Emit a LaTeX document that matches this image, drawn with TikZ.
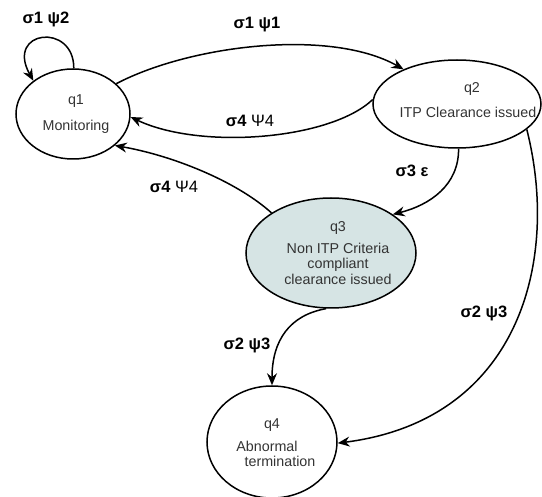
\documentclass[tikz,border=0pt]{standalone}
\usepackage{fontspec}
\setmainfont{Liberation Sans}
\usetikzlibrary{arrows.meta,shapes.geometric}
\definecolor{statefill}{HTML}{D6E4E4}
\definecolor{statetext}{HTML}{333333}
\begin{document}
\begin{tikzpicture}[x=1pt,y=-1pt,
  state/.style={ellipse,draw=black,line width=1.5pt,inner sep=0pt},
  stxt/.style={align=center,text=statetext,font=\fontsize{14.3}{15.5}\selectfont,inner sep=0pt},
  lbl/.style={font=\fontsize{16.5}{18}\selectfont\bfseries,inner sep=0pt},
  trans/.style={line width=1.5pt,-{Stealth[length=12pt,width=10pt,inset=4pt]}}]
  \useasboundingbox (0,0) rectangle (542,497);

  % states
  \node[state,minimum width=114pt,minimum height=90pt] (q1) at (73,114) {};
  \node[state,minimum width=168pt,minimum height=88pt] (q2) at (457,104) {};
  \node[state,fill=statefill,minimum width=170pt,minimum height=110pt] (q3) at (331,253) {};
  \node[state,minimum width=130pt,minimum height=112pt] (q4) at (272,442) {};

  % state captions
  \node[stxt] (q1t) at (76,114) {q1\\[10pt]Monitoring};
  \node[stxt] (q2t) at (468,100) {\hspace*{8pt}q2\\[10pt]ITP Clearance issued};
  \node[stxt] (q3t) at (338,253) {q3\\[6pt]Non ITP Criteria\\compliant\\clearance issued};
  \node[stxt] (q4t) at (274,443) {\hspace*{-4pt}q4\\[7pt]\hspace*{-14pt}Abnormal\\\hspace*{12pt}termination};

  % transitions
  \draw[trans] (q1.89) .. controls (74,22) and (5,30) .. (q1.140);
  \draw[trans] (q1.35) .. controls (190,45) and (330,28) .. (q2.147);
  \draw[trans] (q2.177) .. controls (330,140) and (200,150) .. (q1.-3);
  \draw[trans] (q3.146) .. controls (235,180) and (170,155) .. (q1.-37);
  \draw[trans] (q2.-88) .. controls (459,185) and (430,205) .. (q3.32);
  \draw[trans] (q2.-20) .. controls (560,260) and (520,420) .. (q4.-1);
  \draw[trans] (q3.-95) .. controls (290,315) and (272,340) .. (q4.90);

  % transition labels
  \node[lbl] (l11) at (46,19) {σ1 ψ2};
  \node[lbl] (l12) at (257,25) {σ1 ψ1};
  \node[lbl] (l21) at (250,121) {σ4 \mdseries Ψ4};
  \node[lbl] (l31) at (174,187) {σ4 \mdseries Ψ4};
  \node[lbl] (l23) at (412,171) {σ3 ε};
  \node[lbl] (l24) at (484,313) {σ2 ψ3};
  \node[lbl] (l34) at (247,345) {σ2 ψ3};
\end{tikzpicture}
\end{document}
